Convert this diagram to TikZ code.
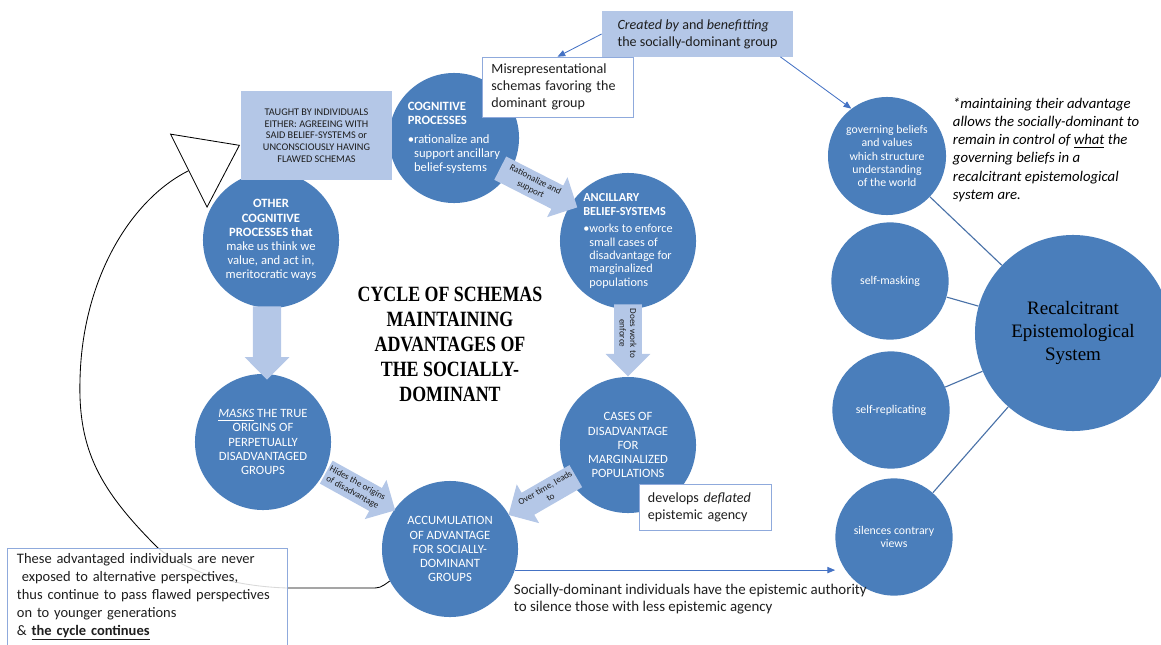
\documentclass[tikz,border=0pt]{standalone}
\usepackage{fontspec}
\setmainfont{Carlito}
\newfontfamily\sysserif{Liberation Serif}
\newfontfamily\titleserif[FakeStretch=0.82]{Liberation Serif}
\definecolor{scBlue}{HTML}{4A7EBB}
\definecolor{scLight}{HTML}{B4C7E7}
\definecolor{scEdge}{HTML}{8FAADC}
\definecolor{scLine}{HTML}{4472C4}
\definecolor{scLink}{HTML}{4A72A8}
\definecolor{scText}{HTML}{1E1E1E}
\usetikzlibrary{calc,positioning,arrows.meta,shapes.arrows}

\tikzset{
  bubble/.style={circle, fill=scBlue, text=white, inner sep=0pt, align=center,
    minimum size=3.4cm, font=\fontsize{9}{10}\selectfont},
  sidebubble/.style={bubble, minimum size=2.93cm, font=\fontsize{8.4}{9.3}\selectfont},
  lightbox/.style={rectangle, fill=scLight, text=scText, align=center, inner sep=2pt},
  notebox/.style={rectangle, draw=scEdge, fill=white, text=scText, align=left,
    inner sep=2pt, font=\fontsize{10}{12.3}\selectfont},
  fatarrow/.style={single arrow, fill=scLight, text=scText, align=center, anchor=tail,
    font=\fontsize{6.5}{7.6}\selectfont, inner xsep=1pt, inner ysep=1.2pt,
    minimum width=1.12cm, single arrow head extend=0.2cm},
  thinarrow/.style={draw=scLine, line width=0.6pt, -{Triangle[length=5.5pt,width=4.5pt]}},
  linkline/.style={draw=scLink, line width=0.8pt},
  cycleline/.style={draw=black, line width=0.6pt, -{Triangle[open,length=41pt,width=59pt]}}
}

\begin{document}
\begin{tikzpicture}[x=0.025cm, y=-0.025cm]
  \useasboundingbox (0,0) rectangle (1161,644);

  % cycle circles
  \node[bubble, minimum size=3.25cm, align=left] (cog) at (454,138)
    {\textbf{COGNITIVE}\\\textbf{PROCESSES}\\[3pt]\textbullet rationalize and\\\hphantom{\textbullet}support ancillary\\\hphantom{\textbullet}belief-systems};
  \node[bubble] (other) at (271,240)
    {\textbf{OTHER}\\\textbf{COGNITIVE}\\\textbf{PROCESSES that}\\make us think we\\value, and act in,\\meritocratic ways};
  \node[bubble, align=left, font=\fontsize{8.7}{9.5}\selectfont] (anc) at (628,241)
    {\textbf{ANCILLARY}\\\textbf{BELIEF-SYSTEMS}\\[3pt]\textbullet works to enforce\\\hphantom{\textbullet}small cases of\\\hphantom{\textbullet}disadvantage for\\\hphantom{\textbullet}marginalized\\\hphantom{\textbullet}populations};
  \node[bubble] (masks) at (263,442)
    {\underline{\textit{MASKS}} THE TRUE\\ORIGINS OF\\PERPETUALLY\\DISADVANTAGED\\GROUPS};
  \node[bubble] (cases) at (628,445)
    {CASES OF\\DISADVANTAGE\\FOR\\MARGINALIZED\\POPULATIONS};
  \node[bubble] (accum) at (450,549)
    {ACCUMULATION\\OF ADVANTAGE\\FOR SOCIALLY-\\DOMINANT\\GROUPS};

  % cycle back to the start
  \draw[cycleline] (accum.208) .. controls (380,588) .. (370,588) -- (287,588)
    .. controls (225,586) and (180,568) .. (157,547)
    .. controls (100,490) and (78,450) .. (80,380)
    .. controls (82,280) and (130,200) .. (240,145);

  % title
  \node[font=\titleserif\bfseries\fontsize{15.5}{17.8}\selectfont, align=center, text=black] (title) at (450,344)
    {CYCLE OF SCHEMAS\\MAINTAINING\\ADVANTAGES OF\\THE SOCIALLY-\\DOMINANT};

  % system circles
  \node[sidebubble, minimum size=2.95cm] (gov) at (887,156)
    {governing beliefs\\and values\\which structure\\understanding\\of the world};
  \node[sidebubble] (selfmask) at (890,281) {self-masking};
  \node[sidebubble] (selfrepl) at (891,410) {self-replicating};
  \node[sidebubble] (sil) at (894,537) {silences contrary\\views};
  \node[bubble, minimum size=4.9cm, text=black, font=\sysserif\fontsize{13.5}{16.5}\selectfont] (recalc) at (1073,333)
    {Recalcitrant\\Epistemological\\System};
  \foreach \n in {gov,selfmask,selfrepl,sil}
    \draw[linkline] (\n) -- (recalc);

  % boxes
  \node[lightbox, minimum width=3.78cm, minimum height=2.23cm, font=\fontsize{7.3}{8.3}\selectfont] (taught) at (316.5,135.5)
    {TAUGHT BY INDIVIDUALS\\EITHER: AGREEING WITH\\SAID BELIEF-SYSTEMS or\\UNCONSCIOUSLY HAVING\\FLAWED SCHEMAS};
  \node[lightbox, align=left, minimum width=4.78cm, minimum height=1.13cm, font=\fontsize{10}{12.3}\selectfont] (created) at (697.5,34)
    {\textit{Created by} and \textit{benefitting}\\the socially-dominant group};
  \node[notebox, text width=3.3cm, minimum width=3.78cm, minimum height=1.5cm] (misrep) at (557.5,87)
    {Misrepresentational\\schemas favoring the\\dominant group};
  \node[notebox, text width=2.85cm, minimum width=3.3cm, minimum height=1.15cm] (deflated) at (705,507)
    {develops \textit{deflated}\\epistemic agency};
  \node[notebox, fill opacity=0.85, text opacity=1, text width=6.5cm, minimum width=7cm, minimum height=2.45cm,
    font=\fontsize{10.3}{12.8}\selectfont] (continues) at (147,597)
    {These advantaged individuals are never\\\ exposed to alternative perspectives,\\thus continue to pass flawed perspectives\\on to younger generations\\\& \textbf{\underline{the cycle continues}}};

  % block arrows
  \node[fatarrow, rotate=-27, minimum height=2.16cm] (a1) at (500,168) {Rationalize and\\support};
  \node[fatarrow, rotate=-90, minimum height=1.8cm, inner ysep=3pt] (a2) at (628,304) {Does work to\\enforce};
  \node[fatarrow, rotate=-90, minimum height=1.83cm, inner ysep=9.5pt] (a3) at (267,306) {};
  \node[fatarrow, rotate=-29, minimum height=1.97cm] (a4) at (326,472) {Hides the origins\\of disadvantage};
  \node[fatarrow, rotate=30, shape border rotate=180, minimum height=1.94cm] (a5) at (576,476) {Over time, leads\\to};

  % connectors
  \draw[thinarrow] (created.west) -- (misrep.north);
  \draw[thinarrow] ($(created.south east)+(-13,0)$) -- (gov.127);
  \draw[thinarrow] (accum.-18) -- (accum.-18 -| sil.west);

  % texts
  \node[anchor=north west, align=left, text=black, font=\itshape\fontsize{10.5}{12.9}\selectfont] (note) at (948,93)
    {*maintaining their advantage\\allows the socially-dominant to\\remain in control of \underline{what} the\\governing beliefs in a\\recalcitrant epistemological\\system are.};
  \node[anchor=north west, align=left, text=scText, font=\fontsize{10.6}{12.3}\selectfont] (authority) at (509,579)
    {Socially-dominant individuals have the epistemic authority\\to silence those with less epistemic agency};
\end{tikzpicture}
\end{document}
